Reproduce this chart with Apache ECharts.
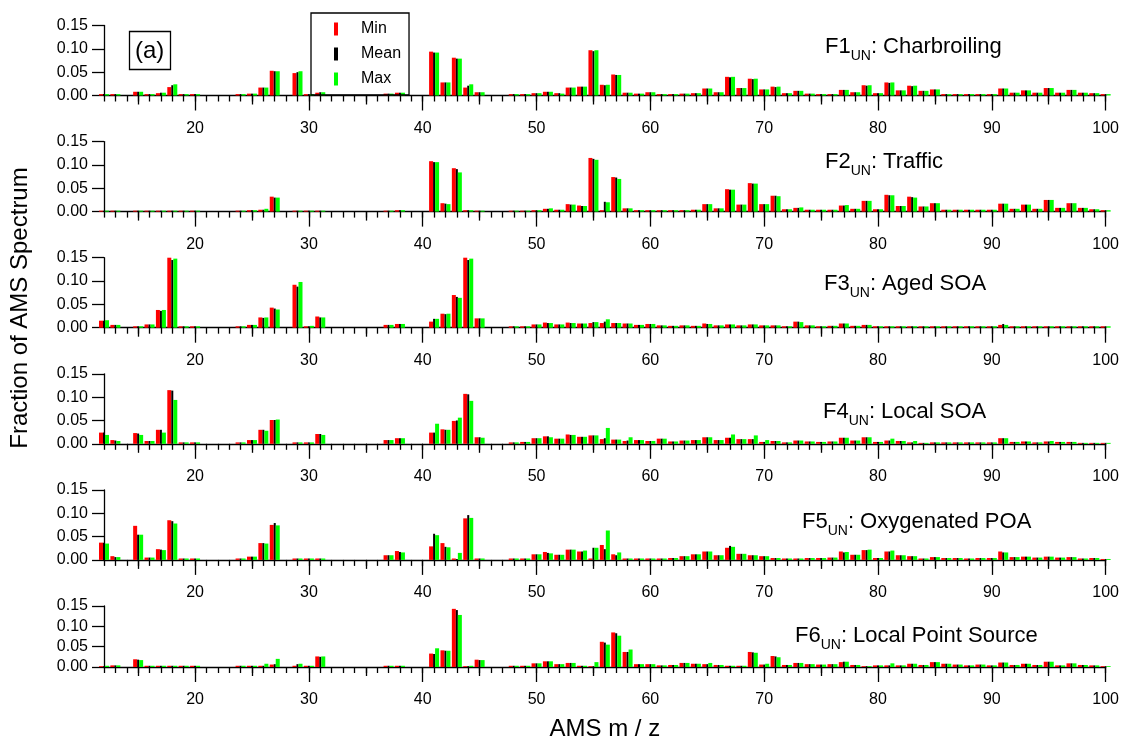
<!DOCTYPE html>
<html><head><meta charset="utf-8">
<script src="https://cdn.jsdelivr.net/npm/echarts@6/dist/echarts.min.js"></script>
<style>html,body{margin:0;padding:0;background:#fff}#c{width:1122px;height:742px}</style>
</head><body><div id="c"></div>
<script>
// m/z values present in the spectra
const mz = [12,13,15,16,17,18,19,20,24,25,26,27,29,30,31,37,38,41,42,43,44,45,
  48,49,50,51,52,53,54,55,56,57,
  58,59,60,61,62,63,64,65,66,67,
  68,69,70,71,72,73,74,75,76,77,
  78,79,80,81,82,83,84,85,86,87,
  88,89,90,91,92,93,94,95,96,97,
  98,99,100];

const factorNames = ['Charbroiling','Traffic','Aged SOA','Local SOA','Oxygenated POA','Local Point Source'];
const xTickLabels = [20,30,40,50,60,70,80,90,100];
const xMidTicks = [15,25,35,45,55,65,75,85,95];
const yTicks = [0,0.05,0.10,0.15];

// F1 Charbroiling
const f1Min = [0.003,0.003,0.008,0.003,0.005,0.018,0.003,0.003,0.003,0.004,0.017,0.053,0.048,0.003,0.006,0.004,0.006,0.094,0.028,0.081,0.017,0.007,
  0.003,0.003,0.005,0.008,0.005,0.017,0.019,0.097,0.023,0.045,
  0.006,0.004,0.007,0.003,0.003,0.004,0.005,0.015,0.007,0.040,
  0.016,0.036,0.013,0.019,0.005,0.010,0.004,0.003,0.003,0.012,
  0.007,0.022,0.005,0.028,0.011,0.021,0.010,0.013,0.003,0.003,
  0.003,0.003,0.003,0.015,0.006,0.011,0.006,0.016,0.006,0.012,
  0.006,0.005,0.003];
const f1Mean = [0.003,0.003,0.008,0.003,0.006,0.022,0.003,0.003,0.003,0.004,0.017,0.052,0.050,0.003,0.007,0.004,0.006,0.092,0.028,0.079,0.021,0.007,
  0.003,0.003,0.005,0.008,0.005,0.017,0.019,0.095,0.022,0.044,
  0.006,0.004,0.007,0.003,0.003,0.004,0.005,0.015,0.007,0.039,
  0.016,0.035,0.013,0.018,0.005,0.010,0.004,0.003,0.003,0.012,
  0.007,0.021,0.005,0.027,0.011,0.020,0.010,0.013,0.003,0.003,
  0.003,0.003,0.003,0.015,0.006,0.011,0.006,0.016,0.006,0.012,
  0.006,0.005,0.003];
const f1Max = [0.003,0.003,0.008,0.003,0.006,0.024,0.003,0.003,0.003,0.004,0.017,0.052,0.052,0.003,0.007,0.004,0.006,0.092,0.028,0.079,0.024,0.007,
  0.003,0.003,0.005,0.008,0.004,0.017,0.019,0.097,0.023,0.044,
  0.006,0.004,0.007,0.003,0.003,0.004,0.005,0.015,0.007,0.040,
  0.016,0.036,0.013,0.019,0.005,0.010,0.004,0.003,0.003,0.012,
  0.007,0.022,0.005,0.028,0.011,0.021,0.010,0.013,0.003,0.003,
  0.003,0.003,0.003,0.015,0.006,0.011,0.006,0.016,0.006,0.012,
  0.006,0.005,0.003];

// F2 Traffic
const f2Min = [0.002,0.002,0.002,0.002,0.002,0.002,0.002,0.002,0.002,0.003,0.004,0.032,0.002,0.002,0.002,0.002,0.003,0.108,0.018,0.093,0.003,0.002,
  0.002,0.002,0.003,0.006,0.004,0.016,0.013,0.115,0.003,0.074,
  0.007,0.003,0.003,0.003,0.003,0.003,0.004,0.016,0.007,0.048,
  0.015,0.061,0.016,0.034,0.005,0.008,0.004,0.004,0.004,0.013,
  0.006,0.023,0.005,0.036,0.012,0.032,0.011,0.018,0.004,0.004,
  0.004,0.004,0.004,0.017,0.006,0.015,0.006,0.025,0.008,0.018,
  0.008,0.005,0.003];
const f2Mean = [0.002,0.002,0.002,0.002,0.002,0.002,0.002,0.002,0.002,0.003,0.004,0.030,0.002,0.002,0.002,0.002,0.003,0.106,0.017,0.091,0.003,0.002,
  0.002,0.002,0.003,0.006,0.004,0.015,0.012,0.113,0.021,0.073,
  0.007,0.003,0.003,0.003,0.003,0.003,0.004,0.016,0.007,0.047,
  0.015,0.060,0.016,0.034,0.005,0.008,0.004,0.004,0.004,0.013,
  0.006,0.023,0.005,0.035,0.012,0.031,0.011,0.018,0.004,0.004,
  0.004,0.004,0.004,0.017,0.006,0.015,0.006,0.025,0.008,0.018,
  0.008,0.005,0.003];
const f2Max = [0.002,0.002,0.002,0.002,0.002,0.002,0.002,0.002,0.002,0.003,0.006,0.030,0.002,0.002,0.002,0.002,0.003,0.106,0.016,0.084,0.003,0.002,
  0.002,0.002,0.003,0.007,0.004,0.015,0.012,0.111,0.020,0.070,
  0.007,0.003,0.003,0.003,0.003,0.003,0.004,0.016,0.007,0.047,
  0.015,0.060,0.016,0.033,0.005,0.009,0.004,0.004,0.004,0.014,
  0.006,0.023,0.005,0.035,0.012,0.030,0.011,0.018,0.004,0.004,
  0.004,0.004,0.004,0.017,0.006,0.015,0.006,0.025,0.008,0.018,
  0.008,0.005,0.003];

// F3 Aged SOA
const f3Min = [0.015,0.006,0.003,0.007,0.038,0.152,0.003,0.003,0.003,0.006,0.022,0.043,0.092,0.003,0.024,0.006,0.008,0.013,0.030,0.070,0.152,0.020,
  0.003,0.003,0.007,0.011,0.007,0.011,0.009,0.010,0.010,0.010,
  0.009,0.006,0.008,0.005,0.004,0.005,0.004,0.009,0.005,0.007,
  0.005,0.007,0.005,0.005,0.003,0.013,0.005,0.003,0.004,0.009,
  0.004,0.006,0.003,0.003,0.003,0.003,0.003,0.003,0.003,0.003,
  0.003,0.003,0.003,0.006,0.003,0.003,0.003,0.003,0.003,0.003,
  0.003,0.003,0.003];
const f3Mean = [0.015,0.006,0.003,0.007,0.036,0.145,0.003,0.003,0.003,0.006,0.021,0.041,0.088,0.003,0.022,0.006,0.008,0.019,0.029,0.066,0.145,0.020,
  0.003,0.003,0.007,0.010,0.007,0.010,0.009,0.012,0.013,0.010,
  0.009,0.006,0.008,0.005,0.004,0.005,0.004,0.008,0.005,0.007,
  0.005,0.007,0.005,0.005,0.003,0.013,0.005,0.003,0.004,0.009,
  0.004,0.006,0.003,0.003,0.003,0.003,0.003,0.003,0.003,0.003,
  0.003,0.003,0.003,0.008,0.003,0.003,0.003,0.003,0.003,0.003,
  0.003,0.003,0.003];
const f3Max = [0.016,0.006,0.003,0.007,0.038,0.148,0.003,0.003,0.003,0.006,0.022,0.039,0.098,0.004,0.022,0.006,0.008,0.019,0.030,0.064,0.148,0.020,
  0.003,0.003,0.007,0.010,0.007,0.010,0.009,0.012,0.018,0.010,
  0.009,0.006,0.008,0.005,0.004,0.005,0.004,0.008,0.005,0.007,
  0.005,0.007,0.005,0.005,0.003,0.012,0.005,0.003,0.004,0.009,
  0.004,0.006,0.003,0.003,0.003,0.003,0.003,0.003,0.003,0.003,
  0.003,0.003,0.003,0.006,0.003,0.003,0.003,0.003,0.003,0.003,
  0.003,0.003,0.003];

// F4 Local SOA
const f4Min = [0.024,0.008,0.023,0.006,0.030,0.115,0.003,0.003,0.003,0.008,0.030,0.051,0.003,0.003,0.021,0.008,0.012,0.024,0.031,0.049,0.107,0.014,
  0.003,0.004,0.012,0.016,0.011,0.020,0.015,0.018,0.010,0.009,
  0.006,0.008,0.006,0.011,0.005,0.007,0.008,0.014,0.008,0.013,
  0.010,0.010,0.004,0.006,0.003,0.007,0.005,0.004,0.005,0.013,
  0.007,0.014,0.004,0.007,0.006,0.003,0.002,0.003,0.003,0.003,
  0.003,0.003,0.003,0.012,0.004,0.005,0.003,0.005,0.004,0.004,
  0.002,0.002,0.002];
const f4Mean = [0.024,0.007,0.022,0.006,0.030,0.114,0.003,0.003,0.003,0.008,0.030,0.051,0.003,0.003,0.021,0.008,0.012,0.024,0.030,0.050,0.106,0.014,
  0.003,0.004,0.012,0.016,0.011,0.019,0.015,0.018,0.012,0.009,
  0.007,0.008,0.006,0.011,0.005,0.007,0.008,0.014,0.008,0.013,
  0.010,0.010,0.004,0.006,0.003,0.007,0.005,0.004,0.005,0.013,
  0.007,0.014,0.004,0.007,0.006,0.003,0.002,0.003,0.003,0.003,
  0.003,0.003,0.003,0.012,0.004,0.005,0.003,0.005,0.004,0.004,
  0.002,0.002,0.002];
const f4Max = [0.019,0.006,0.019,0.006,0.024,0.094,0.003,0.003,0.003,0.008,0.028,0.052,0.003,0.003,0.019,0.008,0.012,0.043,0.030,0.056,0.092,0.013,
  0.003,0.004,0.012,0.014,0.011,0.019,0.015,0.018,0.034,0.009,
  0.014,0.008,0.006,0.011,0.005,0.007,0.008,0.014,0.008,0.020,
  0.010,0.018,0.008,0.006,0.003,0.007,0.005,0.004,0.005,0.013,
  0.007,0.014,0.004,0.011,0.006,0.006,0.002,0.003,0.003,0.003,
  0.003,0.003,0.003,0.012,0.004,0.005,0.003,0.006,0.004,0.004,
  0.002,0.002,0.002];

// F5 Oxygenated POA
const f5Min = [0.037,0.008,0.073,0.005,0.023,0.085,0.003,0.003,0.003,0.007,0.036,0.075,0.003,0.003,0.003,0.010,0.019,0.029,0.036,0.003,0.089,0.003,
  0.003,0.003,0.012,0.017,0.011,0.022,0.018,0.003,0.032,0.012,
  0.003,0.003,0.003,0.003,0.004,0.008,0.012,0.018,0.010,0.026,
  0.013,0.010,0.008,0.004,0.003,0.003,0.004,0.004,0.005,0.018,
  0.011,0.021,0.004,0.018,0.010,0.008,0.003,0.006,0.004,0.004,
  0.003,0.004,0.004,0.018,0.006,0.007,0.005,0.007,0.005,0.006,
  0.003,0.004,0.002];
const f5Mean = [0.037,0.006,0.054,0.005,0.022,0.083,0.003,0.003,0.003,0.007,0.036,0.079,0.003,0.003,0.003,0.010,0.017,0.056,0.028,0.002,0.096,0.003,
  0.003,0.003,0.012,0.015,0.011,0.022,0.018,0.026,0.023,0.010,
  0.003,0.003,0.003,0.003,0.004,0.008,0.012,0.018,0.010,0.030,
  0.013,0.010,0.008,0.004,0.003,0.003,0.004,0.004,0.005,0.016,
  0.011,0.021,0.004,0.018,0.010,0.008,0.003,0.006,0.004,0.004,
  0.003,0.004,0.004,0.016,0.006,0.007,0.005,0.007,0.005,0.006,
  0.003,0.004,0.002];
const f5Max = [0.035,0.006,0.054,0.005,0.021,0.078,0.003,0.003,0.003,0.007,0.035,0.074,0.003,0.003,0.003,0.010,0.016,0.053,0.027,0.015,0.090,0.003,
  0.003,0.003,0.012,0.014,0.011,0.022,0.020,0.026,0.063,0.016,
  0.003,0.003,0.003,0.003,0.004,0.008,0.012,0.018,0.010,0.028,
  0.013,0.010,0.008,0.004,0.003,0.003,0.004,0.004,0.005,0.017,
  0.011,0.022,0.004,0.020,0.010,0.008,0.003,0.006,0.004,0.004,
  0.003,0.004,0.004,0.016,0.006,0.007,0.005,0.007,0.005,0.006,
  0.003,0.004,0.002];

// F6 Local Point Source
const f6Min = [0.002,0.004,0.019,0.003,0.003,0.003,0.003,0.003,0.003,0.003,0.003,0.006,0.003,0.003,0.026,0.003,0.003,0.033,0.041,0.143,0.002,0.018,
  0.003,0.003,0.009,0.014,0.007,0.010,0.003,0.002,0.062,0.085,
  0.037,0.007,0.007,0.004,0.005,0.010,0.008,0.007,0.005,0.003,
  0.003,0.037,0.006,0.027,0.005,0.010,0.007,0.006,0.007,0.012,
  0.005,0.002,0.004,0.004,0.004,0.008,0.005,0.012,0.008,0.006,
  0.004,0.006,0.004,0.011,0.005,0.008,0.005,0.013,0.004,0.009,
  0.005,0.004,0.002];
const f6Mean = [0.002,0.004,0.018,0.003,0.003,0.003,0.003,0.003,0.003,0.003,0.003,0.007,0.007,0.003,0.025,0.003,0.003,0.032,0.040,0.140,0.002,0.017,
  0.003,0.003,0.009,0.014,0.007,0.010,0.003,0.002,0.060,0.083,
  0.037,0.007,0.007,0.004,0.005,0.010,0.008,0.007,0.005,0.003,
  0.003,0.036,0.006,0.026,0.005,0.010,0.007,0.006,0.007,0.013,
  0.005,0.002,0.004,0.004,0.004,0.008,0.005,0.012,0.008,0.006,
  0.004,0.006,0.004,0.011,0.005,0.008,0.005,0.013,0.004,0.009,
  0.005,0.004,0.002];
const f6Max = [0.003,0.004,0.017,0.003,0.003,0.003,0.003,0.003,0.003,0.003,0.008,0.020,0.008,0.003,0.026,0.003,0.003,0.046,0.040,0.128,0.003,0.017,
  0.003,0.003,0.009,0.014,0.007,0.010,0.003,0.012,0.055,0.077,
  0.043,0.007,0.007,0.004,0.005,0.010,0.008,0.010,0.005,0.003,
  0.003,0.035,0.008,0.024,0.005,0.010,0.007,0.006,0.007,0.013,
  0.005,0.002,0.004,0.009,0.004,0.008,0.005,0.012,0.008,0.006,
  0.004,0.006,0.004,0.011,0.005,0.008,0.005,0.013,0.004,0.009,
  0.005,0.004,0.002];

const factors = [
  [f1Min, f1Mean, f1Max], [f2Min, f2Mean, f2Max], [f3Min, f3Mean, f3Max],
  [f4Min, f4Mean, f4Max], [f5Min, f5Mean, f5Max], [f6Min, f6Mean, f6Max]
];

// ---- layout / style ----
const FONT = '"Liberation Sans", Arial, Helvetica, sans-serif';
const LEFT = 104, RIGHT = 16;
const ZERO0 = 95.5, STEP = 116.1, PH = 70;
const titleX = [825, 825, 824, 823, 802, 795];
const titleCY = [48, 163, 285, 413, 523, 637];
const seriesNames = ['Min', 'Mean', 'Max'];
const colors = ['#ff0000', '#000000', '#00ff00'];
const widths = [4, 2, 4];
const allTicks = [];
for (let v = 12; v <= 100; v++) allTicks.push(v);

const grids = [], xAxes = [], yAxes = [], series = [], titles = [];
for (let i = 0; i < 6; i++) {
  const zero = ZERO0 + STEP * i;
  grids.push({ left: LEFT, right: RIGHT, top: zero - PH, height: PH });
  const base = { gridIndex: i, type: 'value', min: 12, max: 100, position: 'bottom', splitLine: { show: false } };
  xAxes.push(Object.assign({}, base, {
    axisLine: { onZero: false, lineStyle: { color: '#000', width: 1.3 } },
    axisTick: { customValues: allTicks, length: 6, lineStyle: { color: '#000', width: 1.3 } },
    axisLabel: { customValues: xTickLabels, color: '#000', fontSize: 16, fontFamily: FONT, margin: 25 },
    name: i === 5 ? 'AMS m / z' : '', nameLocation: 'middle', nameGap: 50,
    nameTextStyle: { color: '#000', fontSize: 24, fontFamily: FONT }
  }));
  xAxes.push(Object.assign({}, base, {
    axisLine: { show: false },
    axisTick: { customValues: xMidTicks, length: 9, lineStyle: { color: '#000', width: 1.3 } },
    axisLabel: { show: false }
  }));
  xAxes.push(Object.assign({}, base, {
    axisLine: { show: false },
    axisTick: { customValues: xTickLabels, length: 15, lineStyle: { color: '#000', width: 1.3 } },
    axisLabel: { show: false }
  }));
  yAxes.push({
    gridIndex: i, type: 'value', min: 0, max: 0.15, interval: 0.05,
    axisLine: { show: true, lineStyle: { color: '#000', width: 1.3 } },
    axisTick: { show: true, length: 12, lineStyle: { color: '#000', width: 1.3 } },
    axisLabel: { color: '#000', fontSize: 16, fontFamily: FONT, margin: 16, formatter: v => v.toFixed(2) },
    splitLine: { show: false }
  });
  factors[i].forEach((arr, k) => {
    series.push({
      type: 'bar', name: seriesNames[k], xAxisIndex: i * 3, yAxisIndex: i,
      data: mz.map((m, j) => [m, arr[j]]),
      barWidth: widths[k], barGap: '0%',
      itemStyle: { color: colors[k] },
      emphasis: { disabled: true }, animation: false
    });
  });
  titles.push({
    text: '{n|F' + (i + 1) + '}{s|UN}{n|: ' + factorNames[i] + '}',
    left: titleX[i], top: titleCY[i] - 12, padding: 0,
    textStyle: {
      fontWeight: 'normal',
      rich: {
        n: { fontSize: 22, fontWeight: 'normal', fontFamily: FONT, color: '#000', lineHeight: 25, verticalAlign: 'top' },
        s: { fontSize: 14, fontWeight: 'normal', fontFamily: FONT, color: '#000', lineHeight: 14, padding: [13, 0, 0, 0], verticalAlign: 'top' }
      }
    }
  });
}
titles.push({
  text: '(a)', left: 129, top: 31, padding: [6, 6, 5, 6],
  borderColor: '#000', borderWidth: 1.3,
  textStyle: { fontSize: 24, fontWeight: 'normal', fontFamily: FONT, color: '#000', lineHeight: 28 }
});

const chart = echarts.init(document.getElementById('c'), null, { renderer: 'canvas' });
chart.setOption({
  backgroundColor: '#fff',
  animation: false,
  title: titles,
  legend: {
    data: seriesNames, orient: 'vertical', left: 311, top: 13,
    borderColor: '#000', borderWidth: 1.3, padding: [8, 8, 8, 23],
    itemGap: 9, itemWidth: 4, itemHeight: 13, icon: 'rect',
    textStyle: { fontSize: 16, fontFamily: FONT, color: '#000', padding: [0, 0, 0, 18] },
    selectedMode: false
  },
  grid: grids, xAxis: xAxes, yAxis: yAxes, series: series,
  graphic: [{
    type: 'text', x: 20, y: 308, rotation: Math.PI / 2,
    style: { text: 'Fraction of AMS Spectrum', font: '24px ' + FONT, fill: '#000', align: 'center', verticalAlign: 'middle' }
  }]
});
</script></body></html>
